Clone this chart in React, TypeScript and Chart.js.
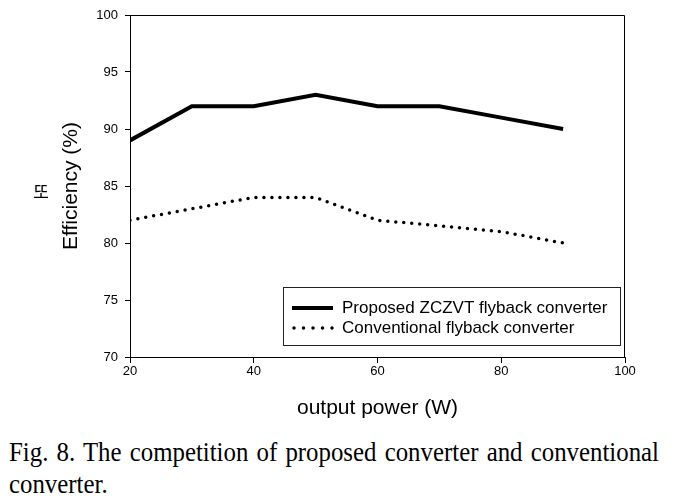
import React, { useEffect, useRef } from "react";
import { Chart, registerables } from "chart.js";

Chart.register(...registerables);

const outputPower = [20, 30, 40, 50, 60, 70, 80, 90];
const proposedEff = [89, 92, 92, 93, 92, 92, 91, 90];
const conventionalEff = [82, 83, 84, 84, 82, 81.5, 81, 80];
const seriesNames = ["Proposed ZCZVT flyback converter", "Conventional flyback converter"];
const xTitle = "output power (W)";
const yTitle = "Efficiency (%)";
const yMark = "또";
const captionText = "Fig. 8. The competition of proposed converter and conventional converter.";

const SANS = "'Liberation Sans', Arial, sans-serif";

const framePlugin = {
  id: "frameAndLegend",
  afterDraw(chart: any) {
    const { ctx, chartArea: a } = chart;
    ctx.save();
    // top & right frame
    ctx.strokeStyle = "#000";
    ctx.lineWidth = 1;
    ctx.beginPath();
    ctx.moveTo(a.left, a.top + 0.5);
    ctx.lineTo(a.right - 0.5, a.top + 0.5);
    ctx.lineTo(a.right - 0.5, a.bottom);
    ctx.stroke();

    // legend box
    const bl = a.right - 342;
    const br = a.right - 5;
    const bt = a.bottom - 70;
    const bb = a.bottom - 12;
    ctx.fillStyle = "#fff";
    ctx.fillRect(bl, bt, br - bl, bb - bt);
    ctx.strokeStyle = "#222";
    ctx.lineWidth = 1;
    ctx.strokeRect(bl + 0.5, bt + 0.5, br - bl, bb - bt);

    const sx0 = bl + 9;
    const sx1 = bl + 50;
    const y1 = bt + 21;
    const y2 = bt + 41;
    ctx.strokeStyle = "#000";
    ctx.lineWidth = 4;
    ctx.lineCap = "butt";
    ctx.beginPath();
    ctx.moveTo(sx0, y1);
    ctx.lineTo(sx1, y1);
    ctx.stroke();

    ctx.lineWidth = 3.5;
    ctx.lineCap = "round";
    ctx.setLineDash([0, 9.5]);
    ctx.beginPath();
    ctx.moveTo(sx0 + 2, y2);
    ctx.lineTo(sx1, y2);
    ctx.stroke();
    ctx.setLineDash([]);

    ctx.fillStyle = "#000";
    ctx.font = "17px " + SANS;
    ctx.textBaseline = "middle";
    ctx.textAlign = "left";
    ctx.fillText(seriesNames[0], bl + 59, y1);
    ctx.fillText(seriesNames[1], bl + 59, y2);

    // korean mark beside y title
    ctx.font = "17px 'Noto Sans CJK KR', sans-serif";
    ctx.textAlign = "center";
    ctx.fillText(yMark, 41, (a.top + a.bottom) / 2 + 6);
    ctx.restore();
  },
};

export default function App() {
  const canvasRef = useRef<HTMLCanvasElement | null>(null);

  useEffect(() => {
    if (!canvasRef.current) return;
    const chart = new Chart(canvasRef.current, {
      type: "line",
      data: {
        datasets: [
          {
            label: seriesNames[0],
            data: outputPower.map((x, i) => ({ x, y: proposedEff[i] })),
            borderColor: "#000",
            borderWidth: 4,
            pointRadius: 0,
            tension: 0,
            fill: false,
          },
          {
            label: seriesNames[1],
            data: outputPower.map((x, i) => ({ x, y: conventionalEff[i] })),
            borderColor: "#000",
            borderWidth: 3.5,
            borderDash: [0, 8],
            borderCapStyle: "round",
            pointRadius: 0,
            tension: 0,
            fill: false,
          },
        ],
      },
      options: {
        animation: false,
        responsive: false,
        maintainAspectRatio: false,
        layout: { padding: { left: 0, right: 53, top: 15, bottom: 0 } },
        plugins: {
          legend: { display: false },
          tooltip: { enabled: false },
        },
        scales: {
          x: {
            type: "linear",
            min: 20,
            max: 100,
            ticks: {
              stepSize: 20,
              color: "#000",
              font: { family: SANS, size: 13 },
              padding: 1,
              maxRotation: 0,
            },
            grid: {
              drawOnChartArea: false,
              drawTicks: true,
              tickLength: 6,
              color: "#000",
            },
            border: { display: true, color: "#000", width: 1 },
            title: {
              display: true,
              text: xTitle,
              color: "#000",
              font: { family: SANS, size: 21 },
              padding: { top: 0, bottom: 9 },
            },
            afterFit(scale: any) {
              scale.height = 73;
            },
          },
          y: {
            type: "linear",
            min: 70,
            max: 100,
            ticks: {
              stepSize: 5,
              color: "#000",
              font: { family: SANS, size: 13 },
              padding: 7,
            },
            grid: {
              drawOnChartArea: false,
              drawTicks: true,
              tickLength: 5,
              color: "#000",
            },
            border: { display: true, color: "#000", width: 1 },
            title: {
              display: true,
              text: yTitle,
              color: "#000",
              font: { family: SANS, size: 21 },
              padding: { top: 59, bottom: 0 },
            },
            afterFit(scale: any) {
              scale.width = 130;
            },
          },
        },
      },
      plugins: [framePlugin],
    } as any);
    return () => chart.destroy();
  }, []);

  return (
    <div style={{ position: "fixed", left: 0, top: 0, width: 678, height: 504, background: "#fff", overflow: "hidden" }}>
      <canvas
        ref={canvasRef}
        width={678}
        height={430}
        style={{ position: "absolute", left: 0, top: 0, width: 678, height: 430 }}
      />
      <div
        style={{
          position: "absolute",
          left: 9,
          top: 436,
          width: 650 / 0.92,
          transform: "scaleX(0.92)",
          transformOrigin: "left top",
          fontFamily: "'Liberation Serif', 'Times New Roman', serif",
          fontSize: 27,
          lineHeight: "32px",
          textAlign: "justify",
          color: "#000",
        }}
      >
        {captionText}
      </div>
    </div>
  );
}
